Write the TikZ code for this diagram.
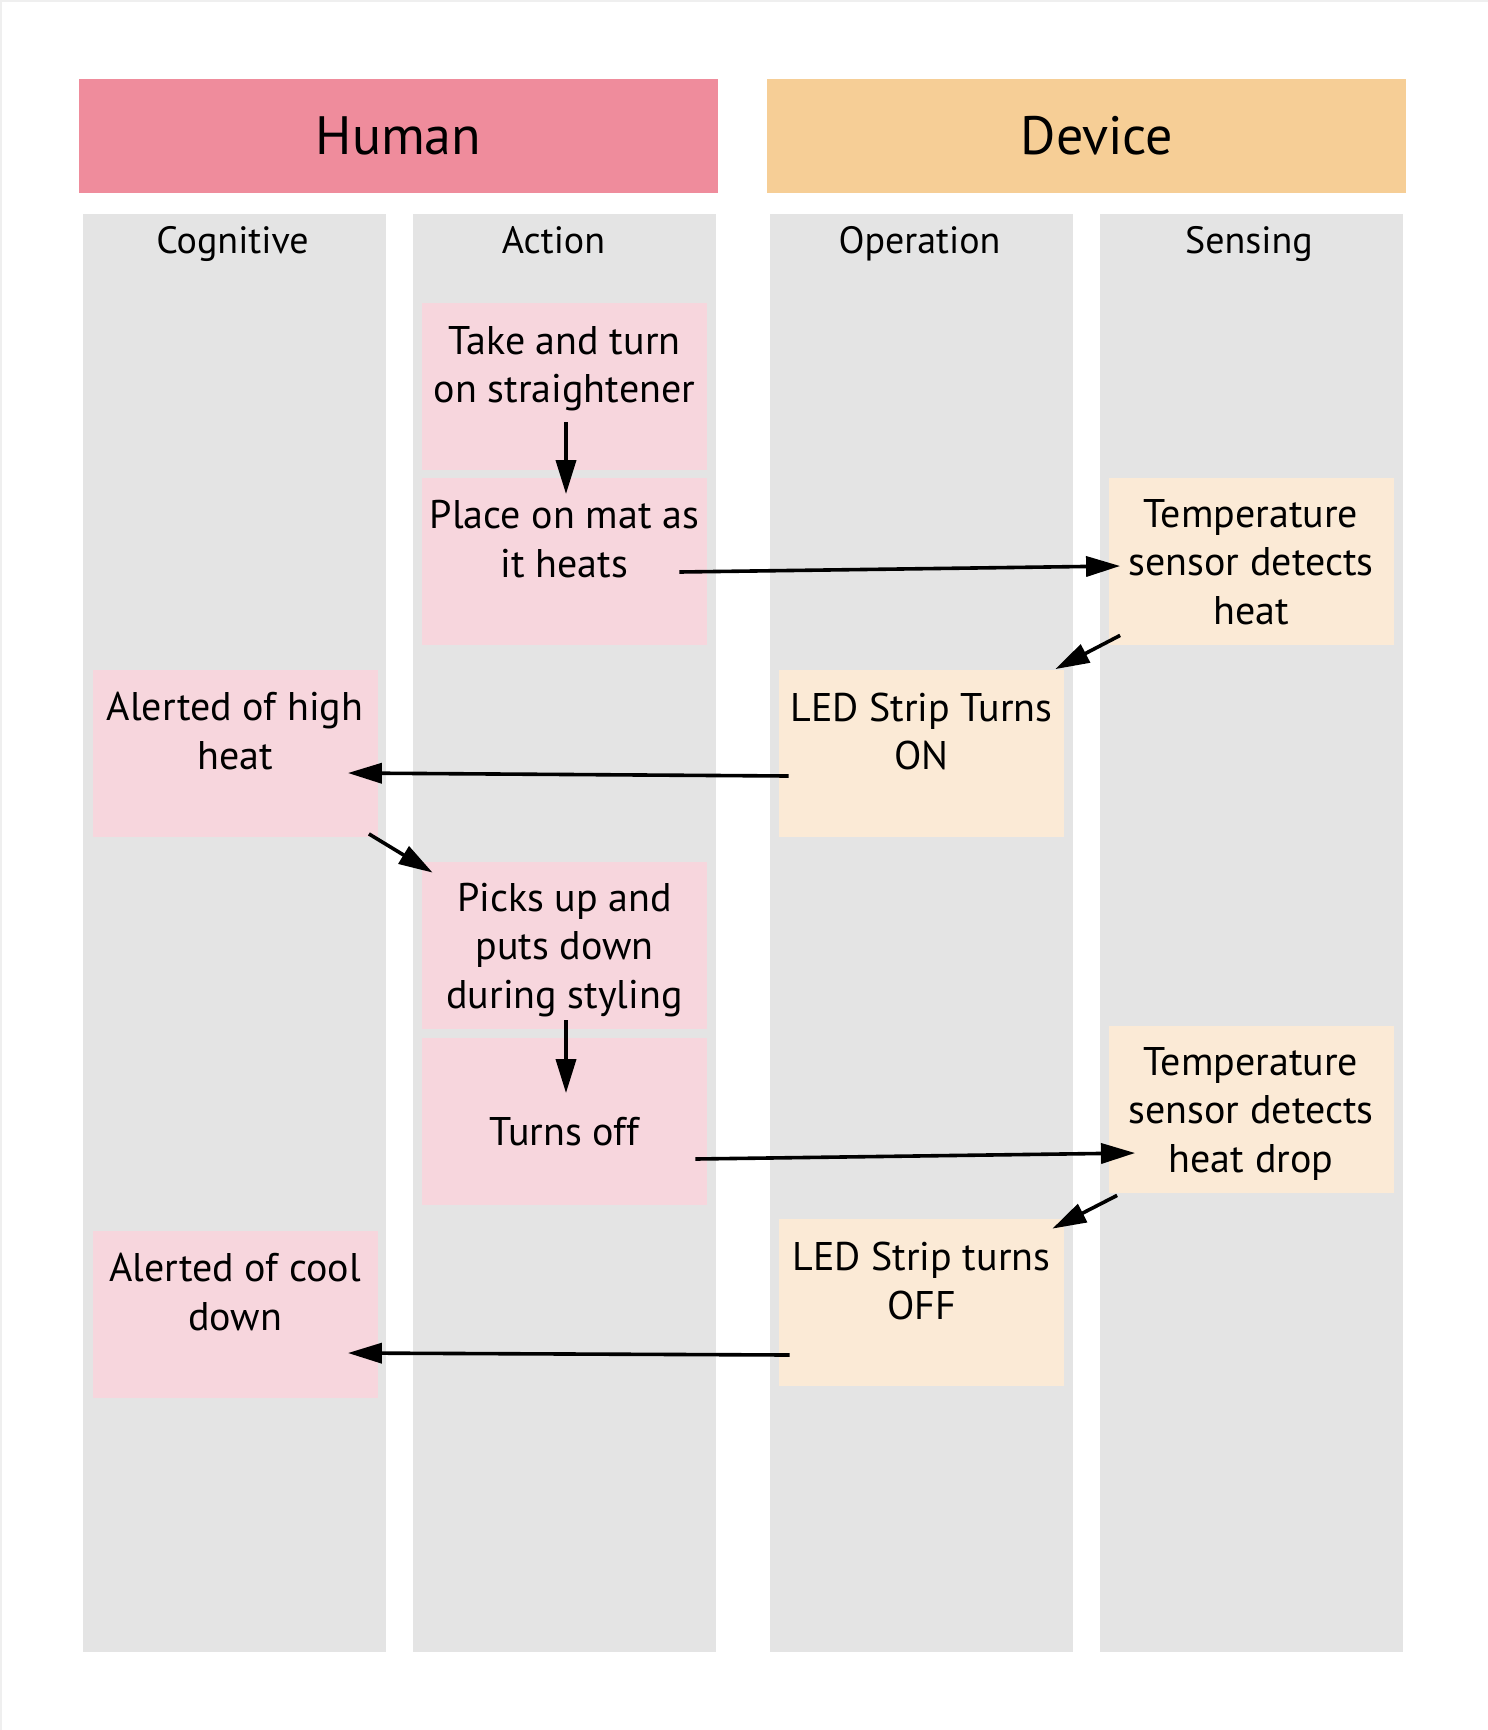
\documentclass[tikz,border=0pt]{standalone}
\usepackage{fontspec}
\setmainfont{PT Sans}
\usetikzlibrary{arrows.meta,calc}

\definecolor{humanhead}{HTML}{EF8C9C}
\definecolor{devicehead}{HTML}{F6CE96}
\definecolor{lanegrey}{HTML}{E4E4E4}
\definecolor{humanbox}{HTML}{F7D6DD}
\definecolor{devicebox}{HTML}{FBEAD6}
\definecolor{edgegrey}{HTML}{EFEFEF}

\begin{document}
\begin{tikzpicture}[
  x = 0.5pt, y = -0.5pt,
  header/.style = {minimum width = 319.5pt, minimum height = 57pt, inner sep = 0pt,
                   font = \fontsize{27}{32}\selectfont},
  lane/.style = {fill = lanegrey, minimum width = 151.5pt, minimum height = 719pt,
                 inner sep = 0pt, anchor = north},
  lanetitle/.style = {anchor = base, inner sep = 0pt, font = \fontsize{19}{23}\selectfont},
  card/.style = {minimum width = 142.5pt, minimum height = 83.5pt, inner sep = 0pt,
                 align = center, text depth = 0pt, font = \fontsize{20}{24.25}\selectfont},
  humancard/.style = {card, fill = humanbox},
  devicecard/.style = {card, fill = devicebox},
  twolines/.style = {text depth = 22pt},
  oneline/.style = {text height = 24pt},
  flow/.style = {-{Triangle[length = 17pt, width = 10pt]}, line width = 1.8pt},
  ]
  \useasboundingbox (0,0) rectangle (1488,1730);
  \draw[edgegrey, line width = 1pt] (1,1730) -- (1,1) -- (1488,1);

  % headers
  \node[header, fill = humanhead] (human) at (398.5,136) {Human};
  \node[header, fill = devicehead] (device) at (1086,136) {\hspace{11pt}Device};

  % lanes
  \node[lane] (cog) at (234.5,214) {};
  \node[lane] (act) at (564.5,214) {};
  \node[lane] (op) at (921.5,214) {};
  \node[lane] (sen) at (1251,214) {};
  \node[lanetitle] at ($(cog.north)+(-2,39)$) {Cognitive};
  \node[lanetitle] at ($(act.north)+(-11,39)$) {Action};
  \node[lanetitle] at ($(op.north)+(-2,39)$) {Operation};
  \node[lanetitle] at ($(sen.north)+(-2,39)$) {Sensing};

  % steps
  \node[humancard, twolines] (take) at (564.5,386.5) {Take and turn\\on straightener};
  \node[humancard, twolines] (place) at (564.5,561) {Place on mat as\\it heats};
  \node[devicecard] (heat) at (1251,561.5) {Temperature\\sensor detects\\heat};
  \node[devicecard, twolines] (ledon) at (921.5,753) {LED Strip Turns\\ON};
  \node[humancard, twolines] (high) at (235,753) {Alerted of high\\heat};
  \node[humancard] (picks) at (564.5,945.5) {Picks up and\\puts down\\during styling};
  \node[humancard, oneline] (off) at (564.5,1121) {Turns off};
  \node[devicecard] (drop) at (1251,1109.5) {Temperature\\sensor detects\\heat drop};
  \node[devicecard, twolines] (ledoff) at (921.5,1302.5) {LED Strip turns\\OFF};
  \node[humancard, twolines] (cool) at (235,1314) {Alerted of cool\\down};

  % connectors
  \draw[flow] ($(take.south)+(1.5,-48)$) -- ($(place.north)+(1.5,17)$);
  \draw[flow] ($(place.east)+(-28,11)$) -- ($(heat.west)+(12,4.5)$);
  \draw[flow] ($(heat.south west)+(12,-10)$) -- ($(ledon.north east)+(-9,0)$);
  \draw[flow] ($(ledon.west)+(10,23)$) -- ($(high.east)+(-30,20)$);
  \draw[flow] ($(high.south east)+(-9,-3)$) -- ($(picks.north west)+(11,11)$);
  \draw[flow] ($(picks.south)+(1.5,-9)$) -- ($(off.north)+(1.5,56)$);
  \draw[flow] ($(off.east)+(-12,38)$) -- ($(drop.west)+(27,43.5)$);
  \draw[flow] ($(drop.south west)+(9,2)$) -- ($(ledoff.north east)+(-12,10)$);
  \draw[flow] ($(ledoff.west)+(11,52.5)$) -- ($(cool.east)+(-30,39)$);
\end{tikzpicture}
\end{document}
